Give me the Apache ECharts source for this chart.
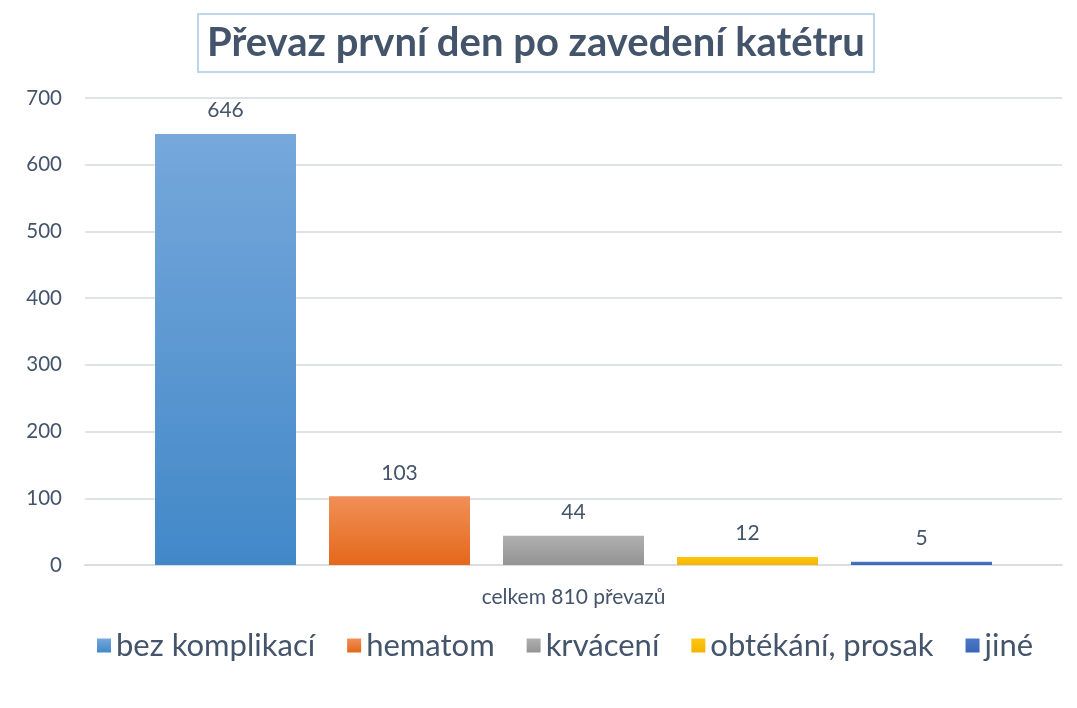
<!DOCTYPE html>
<html>
<head>
<meta charset="utf-8">
<script src="https://cdn.jsdelivr.net/npm/echarts@6/dist/echarts.min.js"></script>
<style>
  html, body { margin: 0; padding: 0; background: #fff; }
  #chart { width: 1077px; height: 708px; }
</style>
</head>
<body>
<div id="chart"></div>
<script>
const category = ["celkem 810 převazů"];
const seriesNames = ["bez komplikací", "hematom", "krvácení", "obtékání, prosak", "jiné"];
const seriesValues = [646, 103, 44, 12, 5];
const yTicks = [0, 700, 100];
const gradients = [
  ["#76a8db", "#4288c8"],
  ["#f18f58", "#e4681a"],
  ["#b0b0b0", "#939393"],
  ["#ffc510", "#f2b500"],
  ["#4a78c8", "#3a64b8"]
];

const textColor = "#44546a";
const font = "Lato";

let mychart = echarts.init(document.getElementById("chart"));

let series = seriesNames.map((name, i) => ({
  name: name,
  type: "bar",
  data: [seriesValues[i]],
  barWidth: 141,
  barGap: "23.4%",
  itemStyle: {
    color: new echarts.graphic.LinearGradient(0, 0, 0, 1, [
      { offset: 0, color: gradients[i][0] },
      { offset: 1, color: gradients[i][1] }
    ])
  },
  label: {
    show: true,
    position: "top",
    distance: 13,
    color: textColor,
    fontFamily: font,
    fontSize: 21
  }
}));

mychart.setOption({
  backgroundColor: "#fff",
  animation: false,
  title: {
    text: "Převaz první den po zavedení katétru",
    left: 198,
    top: 14,
    padding: [9, 9, 9, 9],
    borderColor: "#bcd6ee",
    borderWidth: 2,
    textStyle: {
      color: textColor,
      fontFamily: font,
      fontWeight: "bold",
      fontSize: 40,
      lineHeight: 40
    }
  },
  grid: {
    left: 85,
    right: 15,
    top: 98,
    bottom: 143,
    containLabel: false
  },
  legend: {
    top: 630,
    left: 97,
    padding: 0,
    icon: "rect",
    itemWidth: 14,
    itemHeight: 14,
    itemGap: 32,
    textStyle: {
      color: textColor,
      fontFamily: font,
      fontSize: 31
    }
  },
  xAxis: {
    type: "category",
    data: category,
    axisLine: { lineStyle: { color: "#d9dde3", width: 2 } },
    axisTick: { show: false },
    axisLabel: {
      color: textColor,
      fontFamily: font,
      fontSize: 21,
      margin: 22
    }
  },
  yAxis: {
    type: "value",
    min: yTicks[0],
    max: yTicks[1],
    interval: yTicks[2],
    axisLine: { show: false },
    axisTick: { show: false },
    splitLine: { lineStyle: { color: "#dfe3e8", width: 2 } },
    axisLabel: {
      color: textColor,
      fontFamily: font,
      fontSize: 20.5,
      margin: 23
    }
  },
  series: series
});
</script>
</body>
</html>
